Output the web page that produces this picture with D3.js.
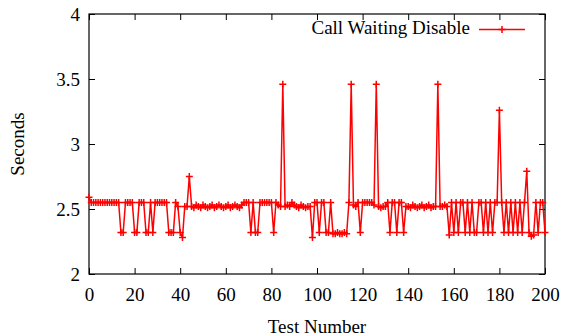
<!DOCTYPE html>
<html><head><meta charset="utf-8">
<script src="https://cdn.jsdelivr.net/npm/d3@7"></script>
<style>body{margin:0;background:#fff}svg{display:block}text{font-family:'Liberation Serif','Times New Roman',serif}</style>
</head><body>
<script>
const seriesName = "Call Waiting Disable";
const xTicks = [0,20,40,60,80,100,120,140,160,180,200];
const yTicks = [2,2.5,3,3.5,4];
const yTickLabels = ["2","2.5","3","3.5","4"];
const seconds = [
2.59,2.55,2.55,2.55,2.55,2.55,2.55,2.55,2.55,2.55,
2.55,2.55,2.55,2.55,2.32,2.32,2.55,2.55,2.55,2.55,
2.32,2.32,2.55,2.55,2.55,2.32,2.32,2.55,2.32,2.55,
2.55,2.55,2.55,2.55,2.55,2.32,2.32,2.32,2.55,2.52,
2.32,2.28,2.52,2.52,2.75,2.52,2.51,2.53,2.52,2.51,
2.53,2.52,2.51,2.52,2.53,2.51,2.52,2.53,2.52,2.51,
2.52,2.53,2.51,2.52,2.53,2.52,2.51,2.53,2.55,2.55,
2.55,2.32,2.55,2.32,2.32,2.55,2.55,2.55,2.55,2.55,
2.55,2.32,2.55,2.53,2.52,3.46,2.52,2.53,2.52,2.55,
2.53,2.52,2.51,2.53,2.52,2.51,2.52,2.52,2.28,2.55,
2.55,2.32,2.55,2.55,2.32,2.32,2.55,2.31,2.31,2.32,
2.31,2.31,2.32,2.31,2.55,3.46,2.53,2.52,2.55,2.32,
2.55,2.55,2.55,2.55,2.55,2.53,3.46,2.52,2.51,2.52,
2.52,2.55,2.32,2.55,2.55,2.32,2.55,2.55,2.32,2.52,
2.52,2.51,2.53,2.52,2.51,2.52,2.53,2.51,2.52,2.53,
2.51,2.52,2.52,3.46,2.52,2.52,2.53,2.52,2.30,2.55,
2.32,2.55,2.32,2.55,2.55,2.32,2.55,2.32,2.55,2.32,
2.32,2.55,2.55,2.32,2.55,2.32,2.55,2.32,2.55,2.55,
3.26,2.55,2.32,2.55,2.32,2.55,2.32,2.55,2.32,2.55,
2.32,2.55,2.79,2.32,2.29,2.30,2.55,2.32,2.55,2.55,
2.32
];
const testNumbers = seconds.map((_, i) => i);

const W = 563, H = 336;
const L = 89, R = 545, T = 14, B = 274;
const font = "'Liberation Serif', 'Times New Roman', serif";
const fs = "19px";
const svg = d3.select("body").append("svg").attr("width", W).attr("height", H)
  .attr("font-family", font);

const x = d3.scaleLinear().domain([0, 200]).range([L, R]);
const y = d3.scaleLinear().domain([2, 4]).range([B, T]);

function styleAxis(g, showText) {
  g.attr("font-family", font).attr("font-size", fs);
  g.select(".domain").remove();
  g.selectAll(".tick line").attr("stroke", "#000").attr("stroke-width", 1);
  g.selectAll("text").attr("fill", "#000").attr("font-family", font).attr("font-size", fs);
  if (!showText) g.selectAll("text").remove();
}

svg.append("g").attr("transform", `translate(0,${B})`)
  .call(d3.axisBottom(x).tickValues(xTicks).tickSize(-6).tickPadding(14).tickSizeOuter(0))
  .call(g => styleAxis(g, true));
svg.append("g").attr("transform", `translate(0,${T})`)
  .call(d3.axisTop(x).tickValues(xTicks).tickSize(-6).tickSizeOuter(0))
  .call(g => styleAxis(g, false));
svg.append("g").attr("transform", `translate(${L},0)`)
  .call(d3.axisLeft(y).tickValues(yTicks).tickFormat((d, i) => yTickLabels[i]).tickSize(-6).tickPadding(9).tickSizeOuter(0))
  .call(g => styleAxis(g, true));
svg.append("g").attr("transform", `translate(${R},0)`)
  .call(d3.axisRight(y).tickValues(yTicks).tickSize(-6).tickSizeOuter(0))
  .call(g => styleAxis(g, false));

svg.append("rect").attr("x", L).attr("y", T).attr("width", R - L).attr("height", B - T)
  .attr("fill", "none").attr("stroke", "#000").attr("stroke-width", 1.2);

svg.append("text").attr("x", (L + R) / 2).attr("y", 333).attr("text-anchor", "middle")
  .attr("font-size", fs).text("Test Number");
svg.append("text").attr("transform", `translate(24,${(T + B) / 2}) rotate(-90)`)
  .attr("text-anchor", "middle").attr("font-size", fs).text("Seconds");

const red = "#ff0000";
const line = d3.line().x((d, i) => x(testNumbers[i])).y(d => y(d));
svg.append("path").datum(seconds).attr("d", line)
  .attr("fill", "none").attr("stroke", red).attr("stroke-width", 1.5);

const m = 3.5;
function cross(g, cx, cy) {
  g.append("path").attr("d", `M${cx - m},${cy}H${cx + m}M${cx},${cy - m}V${cy + m}`)
    .attr("stroke", red).attr("stroke-width", 1.5).attr("fill", "none");
}
const mg = svg.append("g");
seconds.forEach((v, i) => cross(mg, x(testNumbers[i]), y(v)));

// legend
svg.append("text").attr("x", 470).attr("y", 34).attr("text-anchor", "end")
  .attr("font-size", fs).text(seriesName);
svg.append("line").attr("x1", 479).attr("x2", 525).attr("y1", 29.5).attr("y2", 29.5)
  .attr("stroke", red).attr("stroke-width", 1.5);
cross(svg, 502, 29.5);
</script>
</body></html>
